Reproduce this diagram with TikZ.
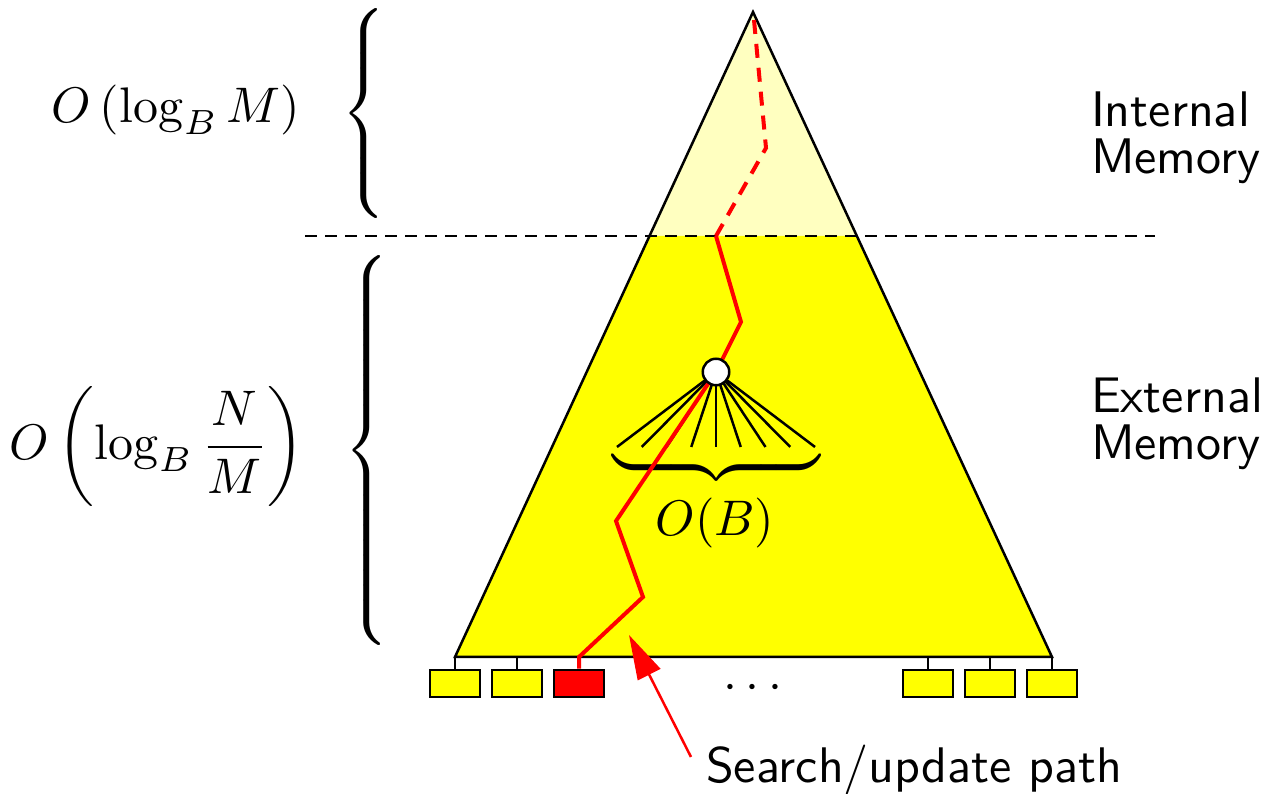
\documentclass[tikz,border=0pt]{standalone}
\usetikzlibrary{arrows.meta}
\definecolor{treeyellow}{RGB}{255,255,0}
\definecolor{paleyellow}{RGB}{255,255,192}
\definecolor{pathred}{RGB}{255,0,0}
\begin{document}
\begin{tikzpicture}[x=0.2pt,y=-0.2pt,
  outline/.style={draw=black,line width=0.5pt,line join=miter},
  leafbox/.style={draw=black,line width=0.5pt,fill=treeyellow,minimum width=10pt,minimum height=5.4pt,inner sep=0pt},
  redleaf/.style={leafbox,fill=pathred},
  tick/.style={line width=0.5pt},
  fanline/.style={line width=0.5pt},
  pathline/.style={pathred,line width=0.8pt},
  pathdash/.style={pathline,dash pattern=on 2.8pt off 2pt},
  levelline/.style={line width=0.4pt,dash pattern=on 2.4pt off 1.6pt},
  sidetext/.style={font={\sffamily\fontsize{10pt}{9.4pt}\selectfont},align=left,anchor=north west,inner sep=0pt},
  mathlabel/.style={inner sep=0pt},
  pointer/.style={pathred,line width=0.5pt,-{Triangle[length=8.9pt,width=5pt]}},
  nodecircle/.style={circle,draw=black,line width=0.5pt,fill=white,minimum size=5.3pt,inner sep=0pt}
]
\useasboundingbox (0,0) rectangle (1268,794);
% triangle
\coordinate (apex) at (753,12);
\coordinate (bl) at (455,657);
\coordinate (br) at (1052,657);
\coordinate (ml) at (649.5,236);
\coordinate (mr) at (856.7,236);
\fill[paleyellow] (apex) -- (mr) -- (ml) -- cycle;
\fill[treeyellow] (ml) -- (mr) -- (br) -- (bl) -- cycle;
\draw[outline] (apex) -- (br) -- (bl) -- cycle;
% memory boundary
\coordinate (dl) at (305,236);
\coordinate (dr) at (1155,236);
\draw[levelline] (dl) -- (dr);
% fan
\coordinate (cc) at (716,372);
\foreach \i in {0,...,8} {
  \coordinate (f\i) at ({617+24.75*\i},447);
  \draw[fanline] (cc) -- (f\i);
}
\node[mathlabel,rotate=-90] (fanbrace) at (716,468)
  {$\delimiterfactor=1001 \delimitershortfall=0pt \nulldelimiterspace=0pt
    \left.\vcenter{\hbox{\rule{0pt}{38.5pt}}}\right\}$};
\node[mathlabel] (ob) at (715,523) {$O(B)$};
% leaves
\foreach \x/\n in {455/1,517/2,928/4,990/5,1052/6} {
  \node[leafbox] (leaf\n) at (\x,683.5) {};
  \coordinate (b\n) at (\x,657);
  \draw[tick] (b\n) -- (leaf\n.north);
}
\node[redleaf] (leaf3) at (579,683.5) {};
\coordinate (b3) at (579,657);
\node[mathlabel] (dots) at (753,688) {$\cdots$};
% search path
\coordinate (root) at (754,20);
\coordinate (p1) at (766,148);
\coordinate (p2) at (716,236);
\coordinate (p3) at (741,322);
\coordinate (p4) at (616,521);
\coordinate (p5) at (643,597);
\draw[pathdash] (root) -- (p1) -- (p2);
\draw[pathline] (p2) -- (p3) -- (cc) -- (p4) -- (p5) -- (b3) -- (leaf3.north);
\node[nodecircle] (c) at (cc) {};
% arrow and label
\node[font=\sffamily,anchor=west,inner sep=0pt] (lbl) at (705,770) {Search/update path};
\coordinate (tail) at (691,757);
\coordinate (target) at (629,635);
\draw[pointer] (tail) -- (target);
% side labels
\node[sidetext] (internal) at (1090,91) {Internal\\Memory};
\node[sidetext] (external) at (1090,377) {External\\Memory};
% left braces and bounds
\node[mathlabel,anchor=west] (brace1) at (340,114)
  {$\delimiterfactor=1001 \delimitershortfall=0pt \nulldelimiterspace=0pt
    \left\{\vcenter{\hbox{\rule{0pt}{36.5pt}}}\right.$};
\node[mathlabel,anchor=west] (brace2) at (343,451)
  {$\delimiterfactor=1001 \delimitershortfall=0pt \nulldelimiterspace=0pt
    \left\{\vcenter{\hbox{\rule{0pt}{77.5pt}}}\right.$};
\node[mathlabel] (bound1) at (176,110) {$O\left(\log_B M\right)$};
\node[mathlabel] (bound2) at (157,447) {$\displaystyle O\left(\log_B \frac{N}{M}\right)$};
\end{tikzpicture}
\end{document}
